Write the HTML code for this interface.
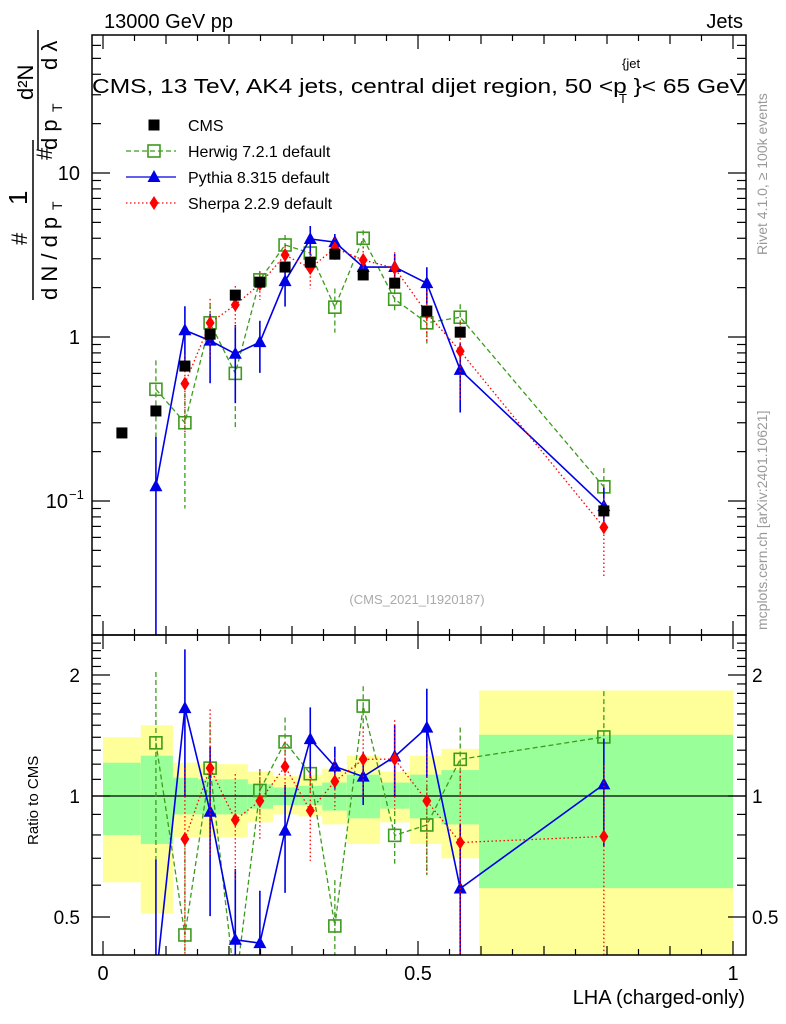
<!DOCTYPE html>
<html><head><meta charset="utf-8"><style>
html,body{margin:0;padding:0;background:#fff;overflow:hidden;width:786px;height:1024px;}
svg{display:block;font-family:"Liberation Sans",Arial,sans-serif;}
</style></head><body>
<svg id="chart" width="786" height="1024" viewBox="0 0 786 1024" xmlns="http://www.w3.org/2000/svg">
<defs>
<clipPath id="clipMain"><rect x="92" y="35" width="654" height="600"/></clipPath>
<clipPath id="clipRatio"><rect x="92" y="635" width="654" height="320"/></clipPath>
</defs>
<g id="bands" clip-path="url(#clipRatio)"></g>
<g id="marksMain" clip-path="url(#clipMain)"></g>
<g id="marksRatio" clip-path="url(#clipRatio)"></g>
<g id="axes"></g>
<text x="104" y="28" font-size="20">13000 GeV pp</text>
<text x="743" y="28" font-size="20" text-anchor="end">Jets</text>
<text x="92" y="93" font-size="20" textLength="654" lengthAdjust="spacingAndGlyphs">CMS, 13 TeV, AK4 jets, central dijet region, 50 &lt;p  }&lt; 65 GeV</text>
<text x="622" y="68" font-size="13">{jet</text>
<text x="619" y="103" font-size="13">T</text>
<text x="417" y="604" font-size="13" fill="#aaaaaa" text-anchor="middle">(CMS_2021_I1920187)</text>
<text transform="translate(767,255) rotate(-90)" font-size="14" fill="#999">Rivet 4.1.0, ≥ 100k events</text>
<text transform="translate(767,630) rotate(-90)" font-size="14" fill="#999">mcplots.cern.ch [arXiv:2401.10621]</text>
<g font-size="22">
<text transform="translate(27,245) rotate(-90)">#</text>
<text transform="translate(27,205) rotate(-90)" font-size="26">1</text>
<line x1="33" y1="140" x2="33" y2="300" stroke="#000" stroke-width="1.5"/>
<text transform="translate(57,300) rotate(-90)">d N / d p</text>
<text transform="translate(62,210) rotate(-90)" font-size="14">T</text>
<text transform="translate(52,160) rotate(-90)">#</text>
<text transform="translate(33,100) rotate(-90)">d²N</text>
<line x1="38" y1="30" x2="38" y2="150" stroke="#000" stroke-width="1.5"/>
<text transform="translate(57,150) rotate(-90)">d p</text>
<text transform="translate(62,112) rotate(-90)" font-size="14">T</text>
<text transform="translate(57,70) rotate(-90)">d λ</text>
</g>
<text transform="translate(38,845) rotate(-90)" font-size="15">Ratio to CMS</text>
<text x="745" y="1004" font-size="20" text-anchor="end">LHA (charged-only)</text>
<g id="legend"></g>
</svg>
<script>
const xs = [0.030,0.084,0.130,0.170,0.210,0.249,0.289,0.329,0.368,0.413,0.463,0.514,0.567,0.795];
const cmsVals = [0.26,0.354,0.665,1.04,1.80,2.16,2.67,2.86,3.2,2.39,2.13,1.44,1.07,0.087];
const herwigVals = [null,0.48,0.30,1.22,0.60,2.23,3.64,3.25,1.52,4.0,1.70,1.22,1.32,0.122];
const herwigErr = [0,0.5,0.7,0.3,0.55,0.12,0.15,0.1,0.3,0.12,0.15,0.25,0.2,0.3];
const pythiaVals = [null,0.123,1.10,0.95,0.79,0.93,2.19,3.96,3.79,2.67,2.67,2.13,0.63,0.093];
const pythiaErr = [0,1.0,0.4,0.45,0.5,0.35,0.3,0.2,0.12,0.15,0.2,0.25,0.45,0.3];
const sherpaVals = [null,null,0.52,1.22,1.57,2.10,3.16,2.63,3.48,2.95,2.63,1.40,0.82,0.069];
const sherpaErr = [0,0,0.5,0.4,0.3,0.2,0.15,0.25,0.15,0.2,0.25,0.35,0.5,0.5];
const binEdges = [0,0.06,0.111,0.151,0.19,0.23,0.27,0.31,0.348,0.387,0.44,0.487,0.537,0.597,1.0];
const yellowUp = [1.40,1.50,1.21,1.20,1.20,1.15,1.12,1.13,1.17,1.26,1.15,1.26,1.31,1.83];
const yellowDn = [0.61,0.51,0.79,0.79,0.79,0.86,0.90,0.89,0.85,0.76,0.86,0.76,0.70,0.30];
const greenUp = [1.21,1.26,1.11,1.10,1.10,1.07,1.05,1.06,1.08,1.13,1.08,1.13,1.16,1.42];
const greenDn = [0.80,0.76,0.90,0.90,0.90,0.93,0.95,0.95,0.92,0.88,0.93,0.88,0.85,0.59];
const mainTicks = [{v:10,l:"10"},{v:1,l:"1"},{v:0.1,l:"10"}];
const ratioTicks = [{v:2,l:"2"},{v:1,l:"1"},{v:0.5,l:"0.5"}];
const xTicks = [{v:0,l:"0"},{v:0.5,l:"0.5"},{v:1,l:"1"}];

const NS="http://www.w3.org/2000/svg";
const L=92,R=746,T=35,M=635,B=955;
const X=v=>103+630*v;
const Y=v=>337-164*Math.log10(v);
const YR=v=>796-402*Math.log10(v);
function mk(tag,attrs,parent){const e=document.createElementNS(NS,tag);for(const k in attrs)e.setAttribute(k,attrs[k]);parent.appendChild(e);return e;}
const bands=document.getElementById('bands'),gm=document.getElementById('marksMain'),gr=document.getElementById('marksRatio'),ax=document.getElementById('axes'),lg=document.getElementById('legend');

for(let i=0;i<binEdges.length-1;i++){
  const x1=X(binEdges[i]),x2=X(binEdges[i+1]);
  const yt=YR(yellowUp[i]),yb=Math.min(YR(yellowDn[i]),B);
  let r=mk('rect',{x:x1,y:yt,width:x2-x1,height:yb-yt,fill:'#ffff99'},bands);
  
  
  r=mk('rect',{x:x1,y:YR(greenUp[i]),width:x2-x1,height:YR(greenDn[i])-YR(greenUp[i]),fill:'#99ff99'},bands);
  
  
}
let ln=mk('line',{x1:L,x2:R,y1:YR(1),y2:YR(1),stroke:'#000','stroke-width':1.2},gr);



function marker(kind,cx,cy,color,parent){
  let e;
  if(kind==='sq') e=mk('rect',{x:cx-5.5,y:cy-5.5,width:11,height:11,fill:'#000'},parent);
  else if(kind==='osq') e=mk('rect',{x:cx-6,y:cy-6,width:12,height:12,fill:'none',stroke:color,'stroke-width':1.6},parent);
  else if(kind==='tri') e=mk('polygon',{points:`${cx},${cy-7} ${cx-6.5},${cy+5} ${cx+6.5},${cy+5}`,fill:color},parent);
  else e=mk('polygon',{points:`${cx},${cy-7} ${cx-4.5},${cy} ${cx},${cy+7} ${cx+4.5},${cy}`,fill:color},parent);
  return e;
}
const series=[
  {name:'herwig',vals:herwigVals,err:herwigErr,color:'#3d9b1d',dash:'5,3',kind:'osq',w:1.3},
  {name:'pythia',vals:pythiaVals,err:pythiaErr,color:'#0000e6',dash:'',kind:'tri',w:1.6},
  {name:'sherpa',vals:sherpaVals,err:sherpaErr,color:'#ff0000',dash:'1.5,2.5',kind:'dia',w:1.3}
];
function drawSeries(s,parent,getV,Yf){
  const pts=[];
  s.vals.forEach((v,i)=>{ if(v==null)return; const r=getV(v,i); pts.push([X(xs[i]),Yf(r),r,i]); });
  const p=mk('polyline',{points:pts.map(q=>q[0]+','+Math.min(q[1],1000)).join(' '),fill:'none',stroke:s.color,'stroke-width':s.w,'stroke-dasharray':s.dash},parent);
  
  
  pts.forEach(q=>{
    const r=q[2],e=s.err[q[3]];
    const lo=r*(1-e)>0?Math.min(Yf(r*(1-e)),965):965;
    const b=mk('line',{x1:q[0],x2:q[0],y1:Yf(r*(1+e)),y2:lo,stroke:s.color,'stroke-width':s.w,'stroke-dasharray':s.dash},parent);
    
    
    const m=marker(s.kind,q[0],q[1],s.color,parent);
    
    
  });
}
series.forEach(s=>{
  drawSeries(s,gm,v=>v,Y);
  drawSeries(s,gr,(v,i)=>v/cmsVals[i],YR);
});
cmsVals.forEach((v,i)=>{
  const m=marker('sq',X(xs[i]),Y(v),'#000',gm);
  
  
});

[[T,M],[M,B]].forEach(([t,b])=>{
  const f=mk('rect',{x:L,y:t,width:R-L,height:b-t,fill:'none',stroke:'#000','stroke-width':1.5},ax);
  
  
});
for(let d=-2;d<=1;d++){for(let k=1;k<=9;k++){const v=k*Math.pow(10,d);const y=Y(v);if(y<T||y>M)continue;const len=k===1?18:9;
  mk('line',{x1:L,x2:L+len,y1:y,y2:y,stroke:'#000','stroke-width':1.2},ax);
  mk('line',{x1:R,x2:R-len,y1:y,y2:y,stroke:'#000','stroke-width':1.2},ax);}}
for(let k=3;k<=24;k++){const v=k/10;const y=YR(v);if(y<M||y>B)continue;const len=(k===5||k===10||k===20)?18:9;
  mk('line',{x1:L,x2:L+len,y1:y,y2:y,stroke:'#000','stroke-width':1.2},ax);
  mk('line',{x1:R,x2:R-len,y1:y,y2:y,stroke:'#000','stroke-width':1.2},ax);}
for(let k=0;k<=20;k++){const v=k*0.05;const x=X(v);const len=k%10===0?14:(k%2===0?9:6);
  [[T,1],[M,-1],[M,1],[B,-1]].forEach(([y,dir])=>mk('line',{x1:x,x2:x,y1:y,y2:y+dir*len,stroke:'#000','stroke-width':1.2},ax));}
mainTicks.forEach(t=>{const e=mk('text',{x:80,y:Y(t.v)+7,'font-size':20,'text-anchor':'end'},ax);e.textContent=t.l;
  
  
  if(t.v<1){e.setAttribute('x',68);const s=mk('text',{x:69,y:Y(t.v)-2,'font-size':13},ax);s.textContent='−1';}});
ratioTicks.forEach(t=>{[[80,'end'],[752,'start']].forEach(([x,a])=>{const e=mk('text',{x:x,y:YR(t.v)+7,'font-size':19,'text-anchor':a},ax);e.textContent=t.l;
  
  });});
xTicks.forEach(t=>{const e=mk('text',{x:X(t.v),y:980,'font-size':20,'text-anchor':'middle'},ax);e.textContent=t.l;
  
  });

const legItems=[['CMS','sq','#000',''],['Herwig 7.2.1 default','osq','#3d9b1d','5,3'],['Pythia 8.315 default','tri','#0000e6',''],['Sherpa 2.2.9 default','dia','#ff0000','1.5,2.5']];
legItems.forEach((it,i)=>{const y=125+i*26;
  if(i>0){mk('line',{x1:126,x2:176,y1:y,y2:y,stroke:it[2],'stroke-width':1.3,'stroke-dasharray':it[3]},lg);}
  const m=marker(it[1],154,y,it[2],lg);
  
  
  const t=mk('text',{x:188,y:y+6,'font-size':16},lg);t.textContent=it[0];
  
  
});
</script>
</body></html>
